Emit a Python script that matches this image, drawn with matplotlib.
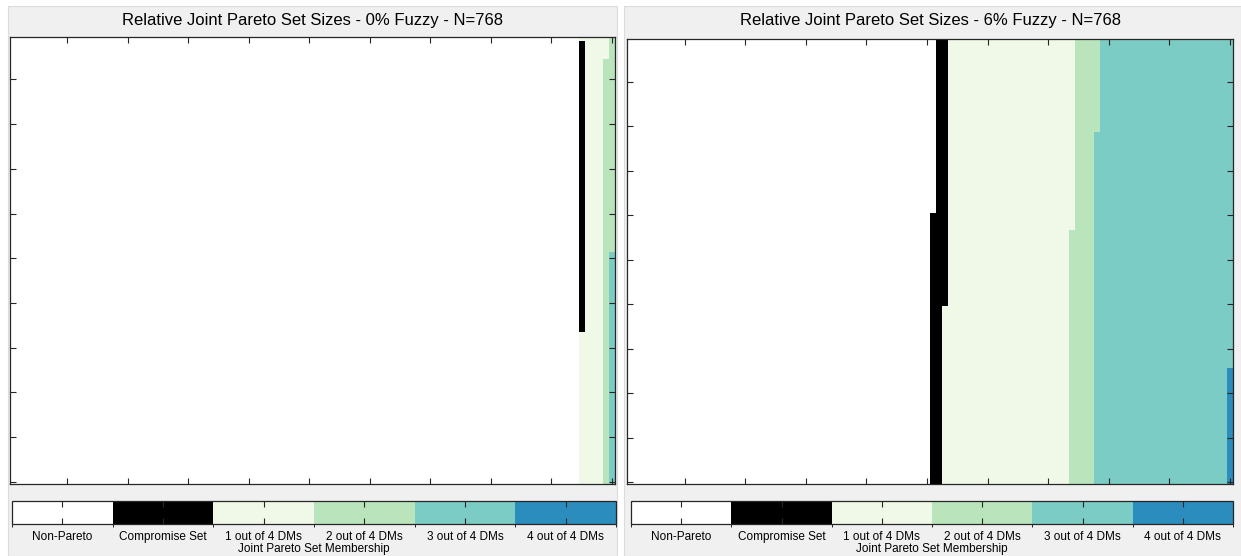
import numpy as np
import matplotlib
matplotlib.use("Agg")
import matplotlib.pyplot as plt
from matplotlib.colors import ListedColormap, BoundaryNorm
from matplotlib.patches import Rectangle

plt.rcParams['font.family'] = ['Liberation Sans', 'DejaVu Sans']

# ---- data ----
categories = ["Non-Pareto", "Compromise Set", "1 out of 4 DMs",
              "2 out of 4 DMs", "3 out of 4 DMs", "4 out of 4 DMs"]
cat_colors = ["#ffffff", "#000000", "#f0f9e8", "#bae4bc", "#7bccc4", "#2b8cbe"]

titles = ["Relative Joint Pareto Set Sizes - 0% Fuzzy - N=768",
          "Relative Joint Pareto Set Sizes - 6% Fuzzy - N=768"]
cbar_label = "Joint Pareto Set Membership"

# row bands (last row index of each band, 1..100) and percent of columns per category
left_row_ends = [1, 5, 48, 66, 100]
left_nonpareto = [94, 94, 94, 94, 94]
left_compromise = [0, 1, 1, 1, 0]
left_one = [5, 4, 3, 3, 4]
left_two = [1, 1, 2, 1, 1]
left_three = [0, 0, 0, 1, 1]
left_four = [0, 0, 0, 0, 0]

right_row_ends = [21, 39, 43, 60, 74, 100]
right_nonpareto = [51, 51, 50, 50, 50, 50]
right_compromise = [2, 2, 3, 3, 2, 2]
right_one = [21, 21, 21, 20, 21, 21]
right_two = [4, 3, 3, 4, 4, 4]
right_three = [22, 23, 23, 23, 23, 22]
right_four = [0, 0, 0, 0, 0, 1]

tick_vals = list(range(10, 101, 10))


def build_matrix(row_ends, *counts):
    rows = []
    start = 0
    for b, end in enumerate(row_ends):
        row = np.concatenate([np.full(c[b], k) for k, c in enumerate(counts)])
        for _ in range(end - start):
            rows.append(row)
        start = end
    return np.array(rows)


mats = [
    build_matrix(left_row_ends, left_nonpareto, left_compromise, left_one,
                 left_two, left_three, left_four),
    build_matrix(right_row_ends, right_nonpareto, right_compromise, right_one,
                 right_two, right_three, right_four),
]

W, H = 1241, 556
fig = plt.figure(figsize=(W / 100, H / 100), dpi=100)
fig.patch.set_facecolor("#ffffff")

# window backgrounds
for (x0, x1) in [(8, 617), (624, 1241)]:
    fig.add_artist(Rectangle((x0 / W, 0), (x1 - x0) / W, (H - 6) / H,
                             transform=fig.transFigure, facecolor="#f0f0f0",
                             edgecolor="#dcdcdc", lw=0.8, zorder=-10))

cmap = ListedColormap(cat_colors)
norm = BoundaryNorm(np.arange(-0.5, 6.5, 1), cmap.N)

ax_boxes = [(10, 37, 605, 447), (627, 39.3, 606, 445)]
cb_boxes = [(12, 501, 604, 23), (631, 501, 602, 23)]

for i in range(2):
    x, y, w, h = ax_boxes[i]
    ax = fig.add_axes([x / W, (H - y - h) / H, w / W, h / H], zorder=2)
    im = ax.imshow(mats[i], cmap=cmap, norm=norm, aspect='auto',
                   interpolation='nearest', extent=(0.5, 100.5, 100.5, 0.5))
    ax.set_xlim(0.5, 100.5)
    ax.set_ylim(100.5, 0.5)
    ax.set_xticks(tick_vals)
    ax.set_yticks(tick_vals)
    ax.set_xticklabels([])
    ax.set_yticklabels([])
    ax.tick_params(direction='in', top=True, right=True, length=4,
                   width=0.8, color="#262626")
    for s in ax.spines.values():
        s.set_color("#262626")
        s.set_linewidth(0.9)
    fig.text((x + w / 2) / W, (H - 20) / H, titles[i], ha='center',
             va='center', fontsize=12, color='#000000', zorder=3)

    cx, cy, cw, ch = cb_boxes[i]
    cax = fig.add_axes([cx / W, (H - cy - ch) / H, cw / W, ch / H], zorder=2)
    cb = fig.colorbar(im, cax=cax, orientation='horizontal',
                      ticks=np.arange(6))
    cb.set_ticklabels(categories)
    cax.tick_params(direction='in', top=True, bottom=True, length=4,
                    width=0.8, color="#262626", labelsize=8.5, pad=5)
    cb.outline.set_edgecolor("#262626")
    cb.outline.set_linewidth(0.9)
    fig.text((cx + cw / 2) / W, (H - 549) / H, cbar_label, ha='center',
             va='center', fontsize=8.5, color='#000000', zorder=3)

fig.savefig("out.png", dpi=100, facecolor=fig.get_facecolor())
